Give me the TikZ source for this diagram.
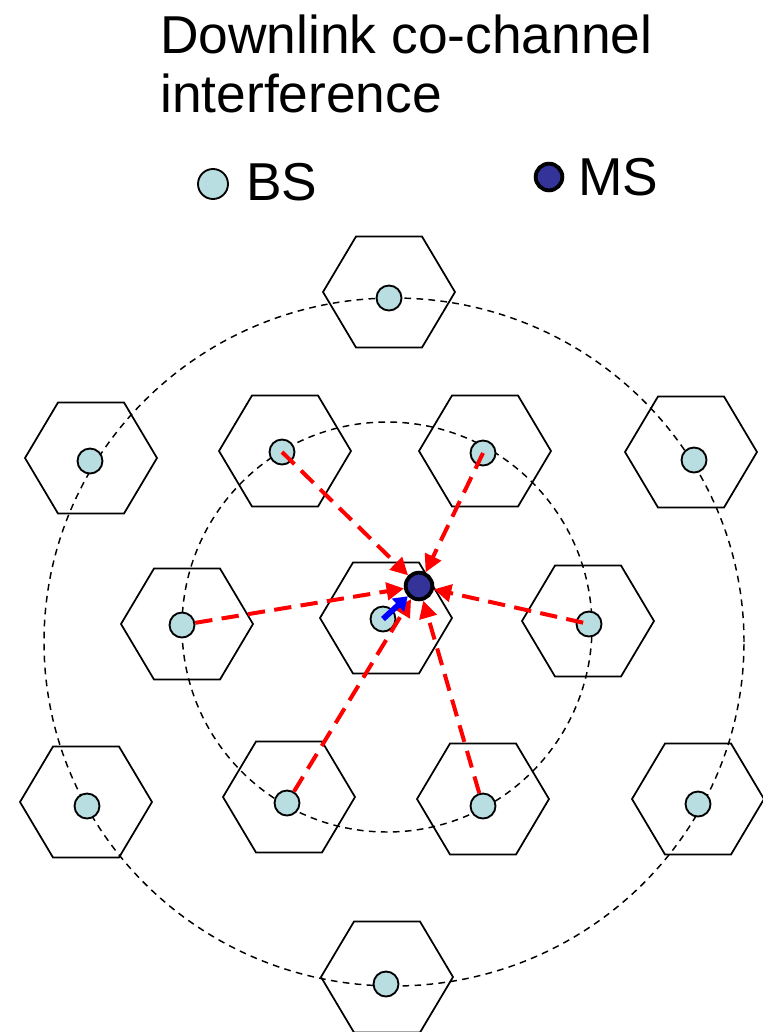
\documentclass[tikz,border=0pt]{standalone}
\usepackage{fontspec}
\setmainfont{Liberation Sans}
\usetikzlibrary{arrows.meta}
\definecolor{bsfill}{RGB}{185,222,226}
\definecolor{msfill}{RGB}{51,51,153}
\begin{document}
\begin{tikzpicture}[x=0.75pt,y=-0.75pt,
  hexline/.style={draw=black,line width=1.3pt,line join=miter},
  ring/.style={draw=black,line width=1.1pt,dash pattern=on 5pt off 4pt},
  bs/.style={circle,draw=black,line width=1.4pt,fill=bsfill,minimum size=18.75pt,inner sep=0pt},
  ms/.style={circle,draw=black,line width=2.9pt,fill=msfill,minimum size=20pt,inner sep=0pt},
  interf/.style={draw=red,line width=3pt,dash pattern=on 13pt off 7pt,-{Triangle[length=13pt,width=13pt]}},
  own/.style={draw=blue,line width=4.3pt,-{Triangle[length=10pt,width=13pt]}},
  legendtext/.style={anchor=base west,inner sep=0pt,font=\fontsize{40}{48}\selectfont},
  cell/.pic={\draw[hexline] (-66,0) -- (-33,-55.5) -- (33,-55.5) -- (66,0) -- (33,55.5) -- (-33,55.5) -- cycle;}
]
\useasboundingbox (0,0) rectangle (763,1032);

% title and legend
\node[legendtext] (t1) at (160,53) {Downlink co-channel};
\node[legendtext] (t2) at (160,112) {interference};
\node[bs,minimum size=22.5pt] (lbs) at (213,184) {};
\node[legendtext] (tbs) at (246,200) {BS};
\node[ms] (lms) at (549,177) {};
\node[legendtext] (tms) at (578,195) {MS};

% first and second tier of co-channel cells
\draw[ring] (387,627) circle[radius=153.75pt];
\draw[ring] (394,642) ellipse[x radius=262.5pt,y radius=258pt];

% hexagonal cells
\pic at (389,292) {cell};
\pic at (91,458) {cell};
\pic at (285,451) {cell};
\pic at (485,451) {cell};
\pic at (691,452) {cell};
\pic at (187,624) {cell};
\pic at (386,618) {cell};
\pic at (588,621) {cell};
\pic at (86,802) {cell};
\pic at (289,797) {cell};
\pic at (483,799) {cell};
\pic at (698,799) {cell};
\pic at (387,977) {cell};

% base stations
\node[bs] (b1) at (389,298) {};
\node[bs] (b2) at (90,461) {};
\node[bs] (b3) at (282,452) {};
\node[bs] (b4) at (483,453) {};
\node[bs] (b5) at (694,460) {};
\node[bs] (b6) at (182,625) {};
\node[bs] (b7) at (383,619) {};
\node[bs] (b8) at (589,624) {};
\node[bs] (b9) at (87,806) {};
\node[bs] (b10) at (287,803) {};
\node[bs] (b11) at (483,806) {};
\node[bs] (b12) at (698,804) {};
\node[bs] (b13) at (386,984) {};

% mobile station
\node[ms] (ms) at (419,586) {};

% interfering links
\draw[interf] (b3.center) -- (ms);
\draw[interf] (b4.center) -- (ms);
\draw[interf] (b6) -- (ms);
\draw[interf,shorten <=4.5pt] (b8.center) -- (ms);
\draw[interf] (b10) -- (ms);
\draw[interf] (b11) -- (ms);

% serving link
\draw[own] (b7.center) -- (ms);
\end{tikzpicture}
\end{document}
